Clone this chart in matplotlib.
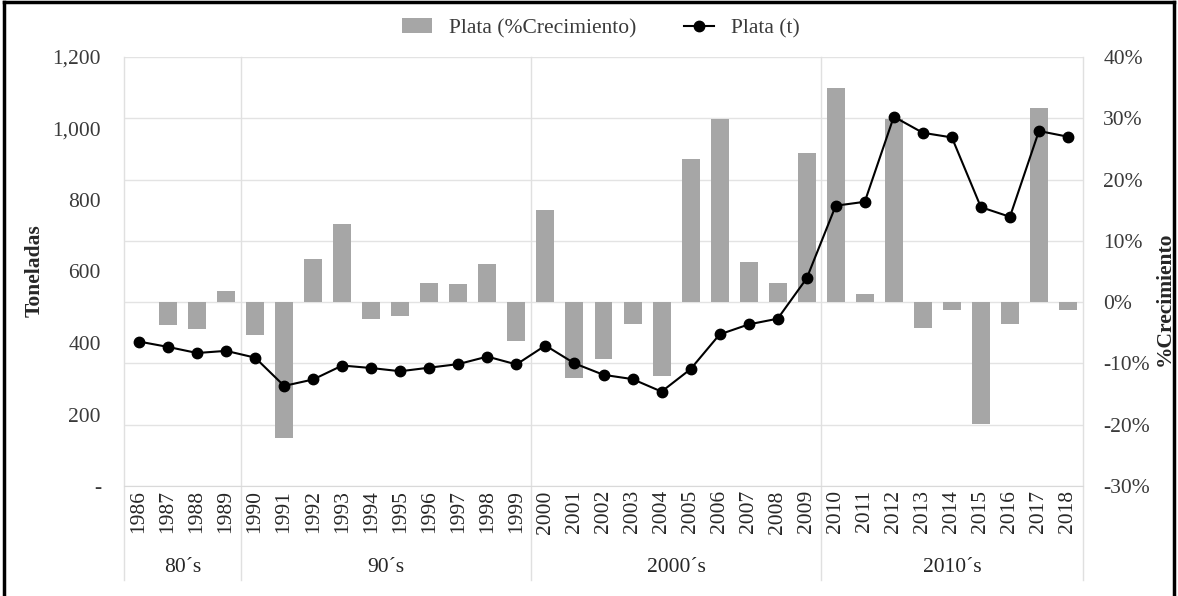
import numpy as np
import matplotlib
matplotlib.use("Agg")
import matplotlib.pyplot as plt
from matplotlib.transforms import blended_transform_factory
from matplotlib.lines import Line2D

plt.rcParams['font.family'] = ['Liberation Serif', 'DejaVu Serif']

years = list(range(1986, 2019))
tons = [404, 389, 372, 378, 359, 280, 298, 337, 330, 321, 331, 341, 362, 340,
        393, 343, 311, 299, 264, 327, 424, 452, 468, 581,
        784, 795, 1033, 988, 975, 780, 753, 993, 977]
growth_pct = [np.nan, -3.8, -4.4, 1.8, -5.3, -22.2, 7.0, 12.7, -2.7, -2.2, 3.1, 3.0, 6.3, -6.3,
              15.1, -12.4, -9.2, -3.5, -12.1, 23.4, 29.9, 6.5, 3.2, 24.3,
              35.0, 1.25, 29.9, -4.2, -1.25, -19.9, -3.5, 31.7, -1.25]
decades = ["80´s", "90´s", "2000´s", "2010´s"]
decade_bounds = [1985.5, 1989.5, 1999.5, 2009.5, 2018.5]
left_ticks = [0, 200, 400, 600, 800, 1000, 1200]
left_ticklabels = ["-", "200", "400", "600", "800", "1,000", "1,200"]

FS = 15.5
W, H = 1178, 596
fig = plt.figure(figsize=(W / 100, H / 100), dpi=100)
ax = fig.add_axes([124.5 / W, 1 - 486 / H, (1082.5 - 124.5) / W, 429 / H])
ax2 = ax.twinx()
ax.set_zorder(ax2.get_zorder() + 1)
ax.patch.set_visible(False)

x = np.arange(len(years))
growth = np.array(growth_pct) / 100.0

txtc = '#3a3a3a'
bars = ax2.bar(x, growth, width=0.62, color='#a6a6a6', label='Plata (%Crecimiento)', zorder=2)
line, = ax.plot(x, tons, color='black', lw=1.5, marker='o', ms=7.5, label='Plata (t)', zorder=5)

ax.set_xlim(-0.5, len(years) - 0.5)
ax.set_ylim(0, 1200)
ax2.set_ylim(-0.30, 0.40)

ax2.set_yticks(np.arange(-0.3, 0.41, 0.1))
ax2.set_yticklabels([f"{int(round(v * 100))}%" for v in np.arange(-0.3, 0.41, 0.1)])
ax2.grid(axis='y', color='#e3e3e3', lw=1)
ax2.set_axisbelow(True)

ax.set_yticks(left_ticks)
ax.set_yticklabels(left_ticklabels)
ax.tick_params(axis='y', length=0, pad=17, labelsize=FS, colors=txtc)
ax2.tick_params(axis='y', length=0, pad=15, labelsize=FS, colors=txtc)

ax.set_xticks(x)
ax.set_xticklabels([str(y) for y in years], rotation=90)
ax.tick_params(axis='x', length=0, pad=3, labelsize=FS, colors='#262626')

for a in (ax, ax2):
    for s in a.spines.values():
        s.set_visible(False)
ax.spines['bottom'].set_visible(True)
ax.spines['bottom'].set_color('#d9d9d9')

trans = blended_transform_factory(ax.transData, ax.transAxes)
for b in decade_bounds:
    xb = b - years[0]
    ax.plot([xb, xb], [-0.219, 1.0], transform=trans, color='#e0e0e0', lw=1,
            clip_on=False, zorder=0)
for i, d in enumerate(decades):
    xc = (decade_bounds[i] + decade_bounds[i + 1]) / 2 - years[0]
    ax.text(xc, -0.191, d, transform=trans, ha='center', va='center',
            fontsize=FS, color='#262626')

fig.text(35 / W, 1 - 271 / H, "Toneladas", rotation=90, ha='center', va='center',
         fontsize=FS, fontweight='bold', color='#262626')
fig.text(1165 / W, 1 - 299 / H, "%Crecimiento", rotation=90, ha='center', va='center',
         fontsize=FS, fontweight='bold', color='#262626')

fig.legend([bars, line], ['Plata (%Crecimiento)', 'Plata (t)'], loc='center',
           bbox_to_anchor=(0.51, 1 - 28 / H), ncol=2, frameon=False, fontsize=FS,
           handlelength=1.4, columnspacing=2.2, labelcolor=txtc)

# figure border
for xs, ys in [([0.003, 0.003], [0, 0.996]), ([0.003, 0.997], [0.996, 0.996]),
               ([0.997, 0.997], [0.996, 0])]:
    fig.add_artist(Line2D(xs, ys, transform=fig.transFigure, color='black', lw=2.5))

fig.savefig("out.png", dpi=100)
